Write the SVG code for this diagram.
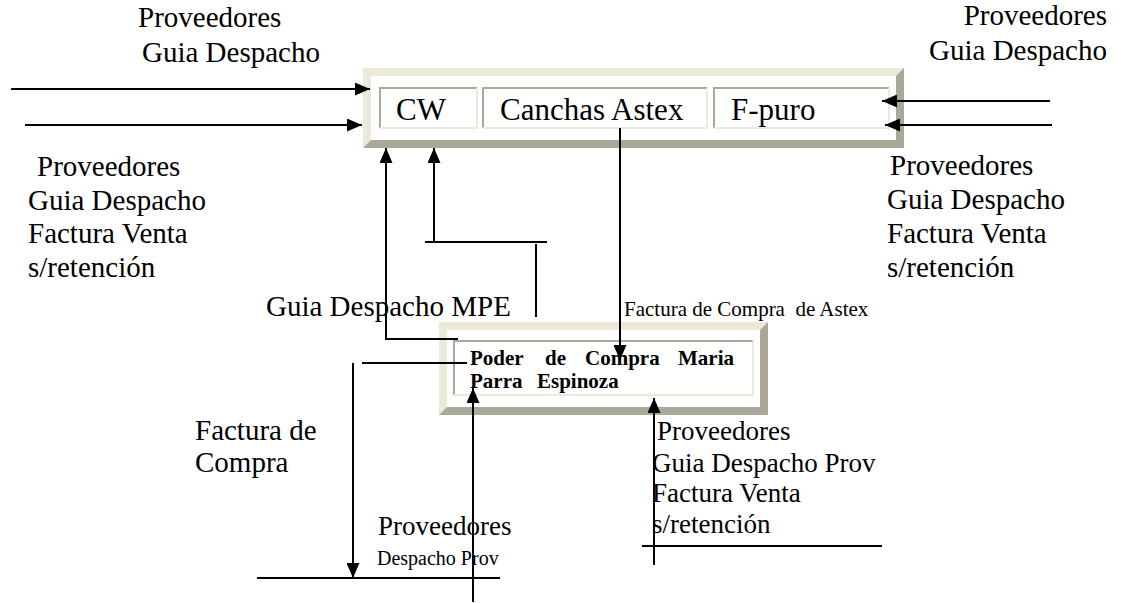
<svg xmlns="http://www.w3.org/2000/svg" width="1122" height="603" viewBox="0 0 1122 603">
<style>
text{font-family:"Liberation Serif","Times New Roman",serif;fill:#000}
.lb{font-size:29px}
.md{font-size:27px}
.sm{font-size:21px}
.xs{font-size:20px}
.cell{font-size:31px}
.bold{font-size:21px;font-weight:bold}
.ln{stroke:#000;stroke-width:2;fill:none}
.ar{marker-end:url(#ah)}
.lt{fill:#ECE9D8}
.dk{fill:#ACA899}
.cbl{stroke:#ACA899;stroke-width:2;fill:none}
.cbd{stroke:#ECE9D8;stroke-width:2;fill:none}
</style>
<defs>
<marker id="ah" markerUnits="userSpaceOnUse" markerWidth="15" markerHeight="13" refX="15" refY="6.5" orient="auto">
<path d="M0,0 L15,6.5 L0,13 z" fill="#000"/>
</marker>
</defs>
<rect width="1122" height="603" fill="#fff"/>

<g id="node-top">
<rect x="363" y="68" width="541" height="80" class="dk"/>
<polygon points="363,68 904,68 896,76 371,76 371,140 363,148" class="lt"/>
<rect x="371" y="76" width="525" height="64" fill="#fff"/>
<g id="cell-cw">
<path d="M380,128 L380,88 L477,88" class="cbl"/><path d="M477,88 L477,128 L380,128" class="cbd"/>
<text x="396" y="120" class="cell">CW</text>
</g>
<g id="cell-canchas">
<path d="M483,128 L483,88 L707,88" class="cbl"/><path d="M707,88 L707,128 L483,128" class="cbd"/>
<text x="500" y="120" class="cell">Canchas Astex</text>
</g>
<g id="cell-fpuro">
<path d="M714,128 L714,88 L889,88" class="cbl"/><path d="M889,88 L889,128 L714,128" class="cbd"/>
<text x="731" y="120" class="cell">F-puro</text>
</g>
</g>

<g id="node-bottom">
<rect x="439" y="322" width="329" height="93" class="dk"/>
<polygon points="439,322 768,322 760,330 447,330 447,407 439,415" class="lt"/>
<rect x="447" y="330" width="313" height="77" fill="#fff"/>
<path d="M454,395 L454,341 L753,341" class="cbl"/><path d="M753,341 L753,395 L454,395" class="cbd"/>
<text y="365" class="bold"><tspan x="470">Poder</tspan><tspan x="545">de</tspan><tspan x="585">Compra</tspan><tspan x="678">Maria</tspan></text>
<text y="388" class="bold"><tspan x="470">Parra</tspan><tspan x="537">Espinoza</tspan></text>
</g>

<g id="connectors">
<line x1="11" y1="89" x2="370" y2="89" class="ln ar"/>
<line x1="25" y1="125" x2="362" y2="125" class="ln ar"/>
<line x1="1050" y1="101" x2="882" y2="101" class="ln ar"/>
<line x1="1052" y1="125" x2="885" y2="125" class="ln ar"/>
<polyline points="458,339 386,339 386,148" class="ln ar"/>
<line x1="425" y1="242" x2="547" y2="242" class="ln"/>
<line x1="434" y1="242" x2="434" y2="148" class="ln ar"/>
<line x1="536" y1="244" x2="536" y2="317" class="ln"/>
<line x1="620" y1="128" x2="620" y2="360" class="ln ar"/>
<line x1="362" y1="363" x2="467" y2="363" class="ln"/>
<line x1="353" y1="363" x2="353" y2="578" class="ln ar"/>
<line x1="257" y1="578" x2="500" y2="578" class="ln"/>
<line x1="473" y1="602" x2="473" y2="388" class="ln ar"/>
<line x1="654" y1="565" x2="654" y2="398" class="ln ar"/>
<line x1="642" y1="546" x2="882" y2="546" class="ln"/>
</g>

<g id="labels">
<text x="138" y="27" class="lb">Proveedores</text>
<text x="142" y="62" class="lb">Guia Despacho</text>
<text x="1107" y="25" class="lb" text-anchor="end">Proveedores</text>
<text x="1107" y="60" class="lb" text-anchor="end">Guia Despacho</text>
<text x="37" y="176" class="lb">Proveedores</text>
<text x="28" y="210" class="lb">Guia Despacho</text>
<text x="28" y="243" class="lb">Factura Venta</text>
<text x="28" y="277" class="lb">s/retención</text>
<text x="890" y="175" class="lb">Proveedores</text>
<text x="887" y="209" class="lb">Guia Despacho</text>
<text x="887" y="243" class="lb">Factura Venta</text>
<text x="887" y="277" class="lb">s/retención</text>
<text x="266" y="316" class="lb">Guia Despacho MPE</text>
<text x="624" y="316" class="sm" xml:space="preserve">Factura de Compra  de Astex</text>
<text x="195" y="440" class="lb">Factura de</text>
<text x="195" y="472" class="lb">Compra</text>
<text x="378" y="535" class="md">Proveedores</text>
<text x="377" y="565" class="xs">Despacho Prov</text>
<text x="657" y="440" class="md">Proveedores</text>
<text x="652" y="472" class="md">Guia Despacho Prov</text>
<text x="652" y="502" class="md">Factura Venta</text>
<text x="652" y="533" class="md">s/retención</text>
</g>
</svg>
